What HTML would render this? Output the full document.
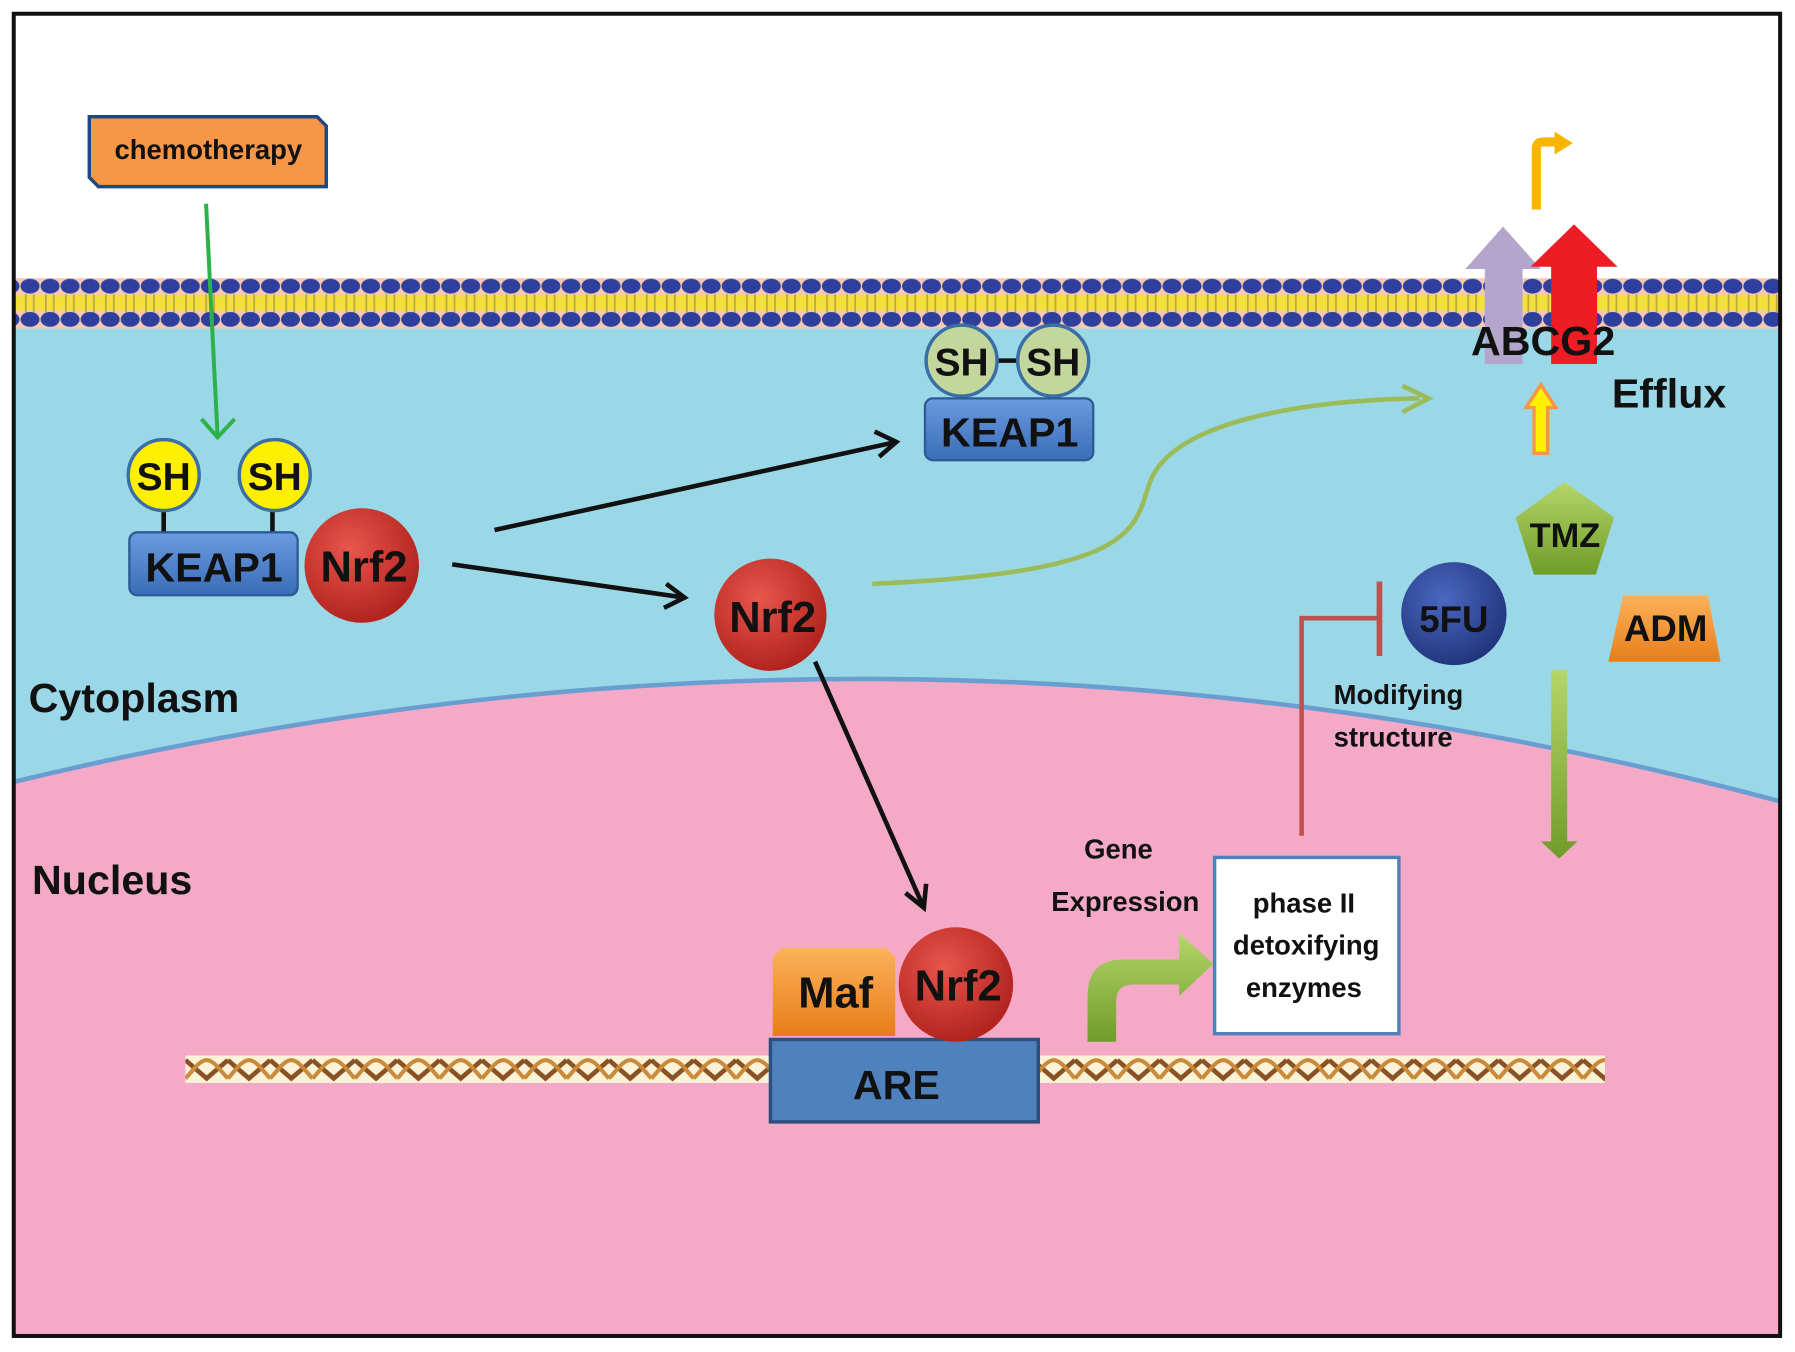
<!DOCTYPE html>
<html><head><meta charset="utf-8"><style>
html,body{margin:0;padding:0;background:#fff}
svg{display:block}
text{font-family:"Liberation Sans","DejaVu Sans",sans-serif;font-weight:bold;fill:#111}
</style></head><body>
<svg width="1795" height="1352" viewBox="0 0 1568 1181" preserveAspectRatio="none" xmlns="http://www.w3.org/2000/svg">
<defs>
<pattern id="mem" x="0" y="243" width="17.5" height="44" patternUnits="userSpaceOnUse">
<rect width="17.5" height="44" fill="#f6c9b0"/>
<rect y="15" width="17.5" height="13" fill="#f4e03a"/>
<line x1="5" y1="14" x2="5" y2="30" stroke="#b9a840" stroke-width="1.5"/>
<line x1="12" y1="14" x2="12" y2="30" stroke="#b9a840" stroke-width="1.5"/>
<ellipse cx="8.75" cy="7" rx="8.3" ry="6.5" fill="#2e3f9e"/>
<ellipse cx="8.75" cy="36" rx="8.3" ry="6.5" fill="#2e3f9e"/>
</pattern>
<pattern id="dna" x="162" y="922" width="37" height="24" patternUnits="userSpaceOnUse">
<rect width="37" height="24" fill="#fbf2d8"/>
<path d="M0 4 L18.5 20 L37 4" fill="none" stroke="#8a5224" stroke-width="4"/>
<path d="M0 20 C6 14 12 4 18.5 4 C25 4 31 14 37 20" fill="none" stroke="#c98a3a" stroke-width="3.5"/>
</pattern>
<radialGradient id="red" cx="40%" cy="35%" r="65%"><stop offset="0" stop-color="#e8564c"/><stop offset="1" stop-color="#b3241f"/></radialGradient>
<radialGradient id="blu" cx="40%" cy="35%" r="65%"><stop offset="0" stop-color="#4a67c0"/><stop offset="1" stop-color="#23377f"/></radialGradient>
<linearGradient id="kb" x1="0" y1="0" x2="0" y2="1"><stop offset="0" stop-color="#6b9be0"/><stop offset="1" stop-color="#3a6db8"/></linearGradient>
<linearGradient id="og" x1="0" y1="0" x2="0" y2="1"><stop offset="0" stop-color="#fbb25a"/><stop offset="1" stop-color="#e87d1a"/></linearGradient>
<linearGradient id="gg" x1="0" y1="0" x2="0" y2="1"><stop offset="0" stop-color="#b5d66a"/><stop offset="1" stop-color="#6f9c2b"/></linearGradient>
</defs>
<rect width="1568" height="1181" fill="#fff"/>
<rect x="12" y="285" width="1543" height="882" fill="#9ad8e8"/>
<path d="M12 683 Q790 495 1555 700 L1555 1167 L12 1167 Z" fill="#f4aac6"/>
<path d="M12 683 Q790 495 1555 700" fill="none" stroke="#6a9ed0" stroke-width="4"/>
<rect x="12" y="243" width="1543" height="44" fill="url(#mem)"/>
<rect x="12" y="12" width="1543" height="1155" fill="none" stroke="#111" stroke-width="3.5"/>

<path d="M86 102 H277 L285 110 V163 H86 L78 155 V102 Z" fill="#f79646" stroke="#1f497d" stroke-width="3"/>
<text x="182" y="139" font-size="24" text-anchor="middle">chemotherapy</text>
<path d="M180 178 L190 380" stroke="#2db24a" stroke-width="3.5" fill="none"/>
<path d="M176 366 L190 382 L205 366" stroke="#2db24a" stroke-width="3.5" fill="none"/>

<line x1="143" y1="440" x2="143" y2="467" stroke="#111" stroke-width="4"/>
<line x1="238" y1="440" x2="238" y2="467" stroke="#111" stroke-width="4"/>
<circle cx="143" cy="415" r="31" fill="#ffef00" stroke="#3a6ea5" stroke-width="3"/>
<circle cx="240" cy="415" r="31" fill="#ffef00" stroke="#3a6ea5" stroke-width="3"/>
<text x="143" y="428" font-size="34" text-anchor="middle">SH</text>
<text x="240" y="428" font-size="34" text-anchor="middle">SH</text>
<rect x="113" y="465" width="147" height="55" rx="7" fill="url(#kb)" stroke="#2c5a95" stroke-width="2"/>
<text x="187" y="508" font-size="36" text-anchor="middle">KEAP1</text>
<circle cx="316" cy="494" r="50" fill="url(#red)"/>
<text x="318" y="508" font-size="38" text-anchor="middle">Nrf2</text>

<g stroke="#111" stroke-width="4" fill="none">
<line x1="432" y1="463" x2="783" y2="386"/>
<path d="M764 377 L783 386 L768 399"/>
<line x1="395" y1="493" x2="598" y2="522"/>
<path d="M582 510 L598 522 L580 531"/>
<line x1="712" y1="578" x2="807" y2="793"/>
<path d="M791 780 L807 793 L809 772"/>
</g>

<line x1="860" y1="315" x2="900" y2="315" stroke="#111" stroke-width="4"/>
<circle cx="840" cy="315" r="31" fill="#c3d69b" stroke="#3a6ea5" stroke-width="3"/>
<circle cx="920" cy="315" r="31" fill="#c3d69b" stroke="#3a6ea5" stroke-width="3"/>
<text x="840" y="328" font-size="34" text-anchor="middle">SH</text>
<text x="920" y="328" font-size="34" text-anchor="middle">SH</text>
<rect x="808" y="348" width="147" height="54" rx="7" fill="url(#kb)" stroke="#2c5a95" stroke-width="2"/>
<text x="882" y="390" font-size="36" text-anchor="middle">KEAP1</text>

<circle cx="673" cy="537" r="49" fill="url(#red)"/>
<text x="675" y="552" font-size="38" text-anchor="middle">Nrf2</text>

<path d="M762 510 C1000 500 990 460 1005 420 C1025 370 1130 350 1240 348" fill="none" stroke="#9bbb59" stroke-width="4"/>
<path d="M1225 337 L1248 348 L1225 360" fill="none" stroke="#9bbb59" stroke-width="4"/>

<path d="M1297 318 V235 H1280 L1313 198 L1346 235 H1330 V318 Z" fill="#b3a5cc"/>
<path d="M1355 318 V233 H1337 L1375 196 L1413 233 H1395 V318 Z" fill="#ee1c24"/>
<text x="1348" y="310" font-size="36" text-anchor="middle">ABCG2</text>
<path d="M1342 183 V130 Q1342 124 1348 124 H1360" fill="none" stroke="#f7b500" stroke-width="8"/>
<path d="M1358 115 L1374 125 L1358 135 Z" fill="#f7b500"/>
<path d="M1340 396 V356 H1333 L1346 336 L1359 356 H1352 V396 Z" fill="#ffef00" stroke="#f79646" stroke-width="3"/>
<text x="1408" y="356" font-size="36">Efflux</text>

<path d="M1367 421 L1410 452 L1394 502 L1340 502 L1324 452 Z" fill="url(#gg)"/>
<text x="1367" y="478" font-size="30" text-anchor="middle">TMZ</text>
<ellipse cx="1270" cy="536" rx="46" ry="45" fill="url(#blu)"/>
<text x="1270" y="552" font-size="32" text-anchor="middle">5FU</text>
<path d="M1418 520 H1492 L1503 578 H1405 Z" fill="url(#og)"/>
<text x="1455" y="560" font-size="32" text-anchor="middle">ADM</text>

<path d="M1137 730 V540 H1203" fill="none" stroke="#c0504d" stroke-width="4"/>
<line x1="1205" y1="508" x2="1205" y2="573" stroke="#c0504d" stroke-width="5"/>
<text x="1165" y="615" font-size="24">Modifying</text>
<text x="1165" y="652" font-size="24">structure</text>

<path d="M1355 585 H1369 V735 H1378 L1362 750 L1346 735 H1355 Z" fill="url(#gg)"/>

<text x="25" y="622" font-size="36">Cytoplasm</text>
<text x="28" y="781" font-size="36">Nucleus</text>

<text x="977" y="750" font-size="24" text-anchor="middle">Gene</text>
<text x="983" y="796" font-size="24" text-anchor="middle">Expression</text>
<rect x="1061" y="749" width="161" height="154" fill="#fff" stroke="#4f81bd" stroke-width="3"/>
<text x="1139" y="797" font-size="24" text-anchor="middle">phase II</text>
<text x="1141" y="834" font-size="24" text-anchor="middle">detoxifying</text>
<text x="1139" y="871" font-size="24" text-anchor="middle">enzymes</text>

<path d="M950 910 V870 Q950 838 982 838 H1030 V815 L1060 842 L1030 870 V860 H990 Q975 860 975 875 V910 Z" fill="url(#gg)"/>

<rect x="162" y="922" width="1240" height="24" fill="url(#dna)"/>
<rect x="673" y="908" width="234" height="72" fill="#4f81bd" stroke="#2c4f80" stroke-width="3"/>
<text x="783" y="960" font-size="36" text-anchor="middle">ARE</text>
<path d="M683 828 H774 L782 836 V905 H675 V836 Z" fill="url(#og)"/>
<text x="730" y="880" font-size="38" text-anchor="middle">Maf</text>
<circle cx="835" cy="860" r="50" fill="url(#red)"/>
<text x="837" y="874" font-size="38" text-anchor="middle">Nrf2</text>
</svg>
</body></html>
